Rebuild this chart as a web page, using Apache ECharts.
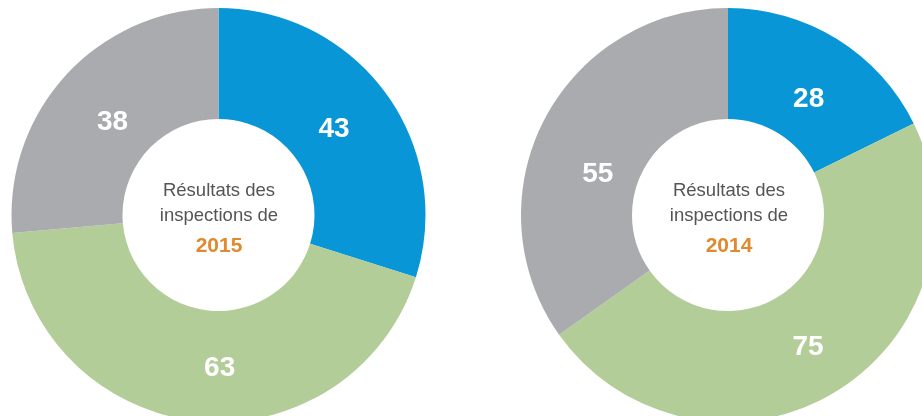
<!DOCTYPE html>
<html>
<head>
<meta charset="utf-8">
<script src="https://cdn.jsdelivr.net/npm/echarts@6/dist/echarts.min.js"></script>
<style>
  html, body { margin: 0; padding: 0; background: #fff; }
  #chart { width: 922px; height: 416px; }
</style>
</head>
<body>
<div id="chart"></div>
<script>
var years = ['2015', '2014'];
var values2015 = [43, 63, 38];
var values2014 = [28, 75, 55];
var colors = ['#0996d7', '#b3cd99', '#aaabaf'];
var centerTitle = 'Résultats des\ninspections de';

// petits décalages des étiquettes (comme sur l'original)
var offsets2015 = [[-9, 6], [18, 0], [8, 12]];
var offsets2014 = [[-1, 15], [1, 0], [7, 30]];

var myChart = echarts.init(document.getElementById('chart'));

function buildData(values, offsets) {
  var out = [];
  for (var i = 0; i < values.length; i++) {
    out.push({
      value: values[i],
      itemStyle: { color: colors[i] },
      label: { offset: offsets[i] }
    });
  }
  return out;
}

function donut(center, values, offsets) {
  return {
    type: 'pie',
    center: center,
    radius: [96, 207],
    startAngle: 90,
    clockwise: true,
    silent: true,
    animation: false,
    label: {
      show: true,
      position: 'inside',
      formatter: '{c}',
      color: '#fff',
      fontSize: 28,
      fontWeight: 'bold',
      fontFamily: 'Liberation Sans, Arial, sans-serif'
    },
    labelLine: { show: false },
    itemStyle: { borderWidth: 0 },
    data: buildData(values, offsets)
  };
}

function centerText(cx, cy, year) {
  return [
    {
      type: 'text',
      x: cx,
      y: cy - 12,
      style: {
        text: centerTitle,
        textAlign: 'center',
        textVerticalAlign: 'middle',
        fill: '#555555',
        font: '18.5px "Liberation Sans", Arial, sans-serif',
        lineHeight: 25
      }
    },
    {
      type: 'text',
      x: cx,
      y: cy + 31,
      style: {
        text: year,
        textAlign: 'center',
        textVerticalAlign: 'middle',
        fill: '#e0892f',
        font: 'bold 21px "Liberation Sans", Arial, sans-serif'
      }
    }
  ];
}

var option = {
  backgroundColor: '#fff',
  animation: false,
  series: [
    donut([218.5, 215], values2015, offsets2015),
    donut([728, 215], values2014, offsets2014)
  ],
  graphic: centerText(219, 215, years[0]).concat(centerText(729, 215, years[1]))
};

myChart.setOption(option);
</script>
</body>
</html>
